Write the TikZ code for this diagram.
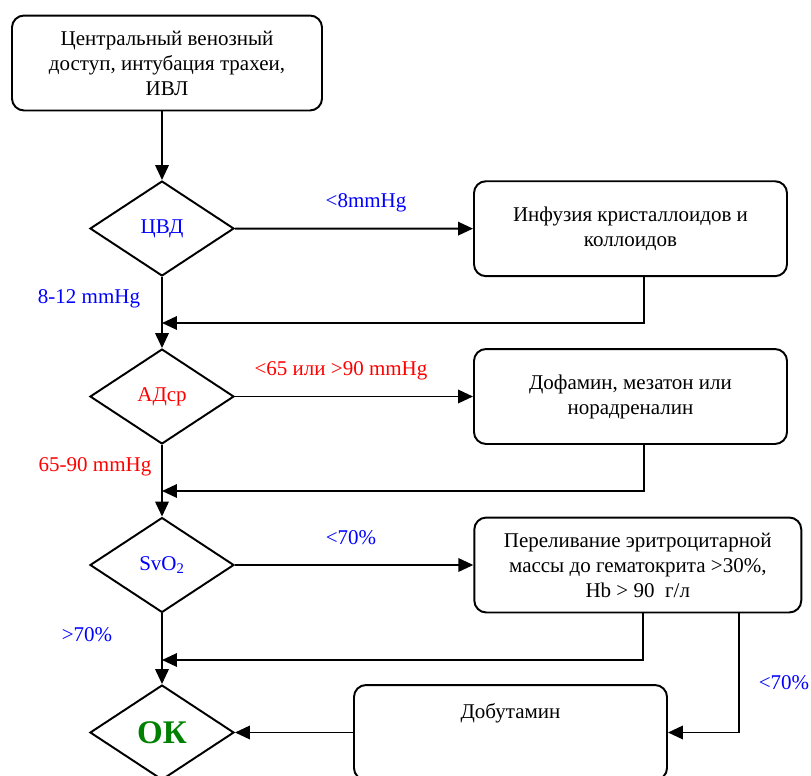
\documentclass[tikz,border=0pt]{standalone}
\usepackage{fontspec}
\setmainfont{Liberation Serif}
\usetikzlibrary{shapes.geometric, arrows.meta, positioning}
\definecolor{labelblue}{RGB}{0, 0, 255}
\definecolor{labelred}{RGB}{255, 0, 0}
\definecolor{okgreen}{RGB}{0, 128, 0}

\begin{document}
\begin{tikzpicture}[
    x=0.6667pt, y=-0.6667pt,
    font=\fontsize{14}{16.7}\selectfont,
    actionbox/.style={draw, line width=1.3pt, rounded corners=8pt, align=center, minimum height=63.3pt, inner sep=2pt},
    decision/.style={draw, diamond, line width=1.3pt, minimum width=96pt, minimum height=63.3pt, inner sep=0pt},
    arrow/.style={-{Triangle[length=10pt, width=9pt]}, line width=1.3pt},
    bluelabel/.style={text=labelblue},
    redlabel/.style={text=labelred}
]
\useasboundingbox (0,0) rectangle (811,776);

% Start
\node[actionbox, minimum width=206.7pt] (access) at (167,63) {Центральный венозный\\доступ, интубация трахеи,\\ИВЛ};

% Decisions
\node[decision, text=labelblue] (cvd) at (162,228.5) {ЦВД};
\node[decision, text=labelred] (map) at (162,396.5) {АДср};
\node[decision, text=labelblue] (svo) at (162,565) {SvO\textsubscript{2}};
\node[decision, text=okgreen, font=\fontsize{22}{24}\selectfont\bfseries] (ok) at (162,732.5) {ОК};

% Actions
\node[actionbox, minimum width=208.7pt] (infusion) at (630.5,228.7) {Инфузия кристаллоидов и\\коллоидов};
\node[actionbox, minimum width=208.7pt] (vasopressor) at (630.5,396.5) {Дофамин, мезатон или\\норадреналин};
\node[actionbox, minimum width=218pt] (transfusion) at (637.8,565) {Переливание эритроцитарной\\массы до гематокрита >30\%,\\Hb > 90~~г/л};
\node[actionbox, minimum width=208.7pt, label={[yshift=12.7pt]center:Добутамин}] (dobutamine) at (510.5,732.5) {};

% Conditions
\node[bluelabel] (lowcvd) at (366,203) {<8mmHg};
\node[bluelabel] (normcvd) at (89,299) {8-12 mmHg};
\node[redlabel] (badmap) at (341,371) {<65 или >90 mmHg};
\node[redlabel] (normmap) at (95,467) {65-90 mmHg};
\node[bluelabel] (lowsvo) at (351,538) {<70\%};
\node[bluelabel] (normsvo) at (87,635) {>70\%};
\node[bluelabel] (lowsvoagain) at (784,683) {<70\%};

% Joins
\coordinate (join1) at (162,323);
\coordinate (join2) at (162,491);
\coordinate (join3) at (162,660);

% Flow
\draw[arrow] (access.south -| cvd) -- (cvd);
\draw[arrow] (cvd) -- (infusion);
\draw[arrow] (cvd) -- (map);
\draw[arrow] ([xshift=8.7pt]infusion.south) |- (join1);
\draw[arrow] (map) -- (vasopressor);
\draw[arrow] (map) -- (svo);
\draw[arrow] ([xshift=8.7pt]vasopressor.south) |- (join2);
\draw[arrow] (svo) -- (transfusion);
\draw[arrow] (svo) -- (ok);
\draw[arrow] ([xshift=3.5pt]transfusion.south) |- (join3);
\draw[arrow] ([xshift=67.5pt]transfusion.south) |- (dobutamine);
\draw[arrow] (dobutamine) -- (ok);

\end{tikzpicture}
\end{document}
